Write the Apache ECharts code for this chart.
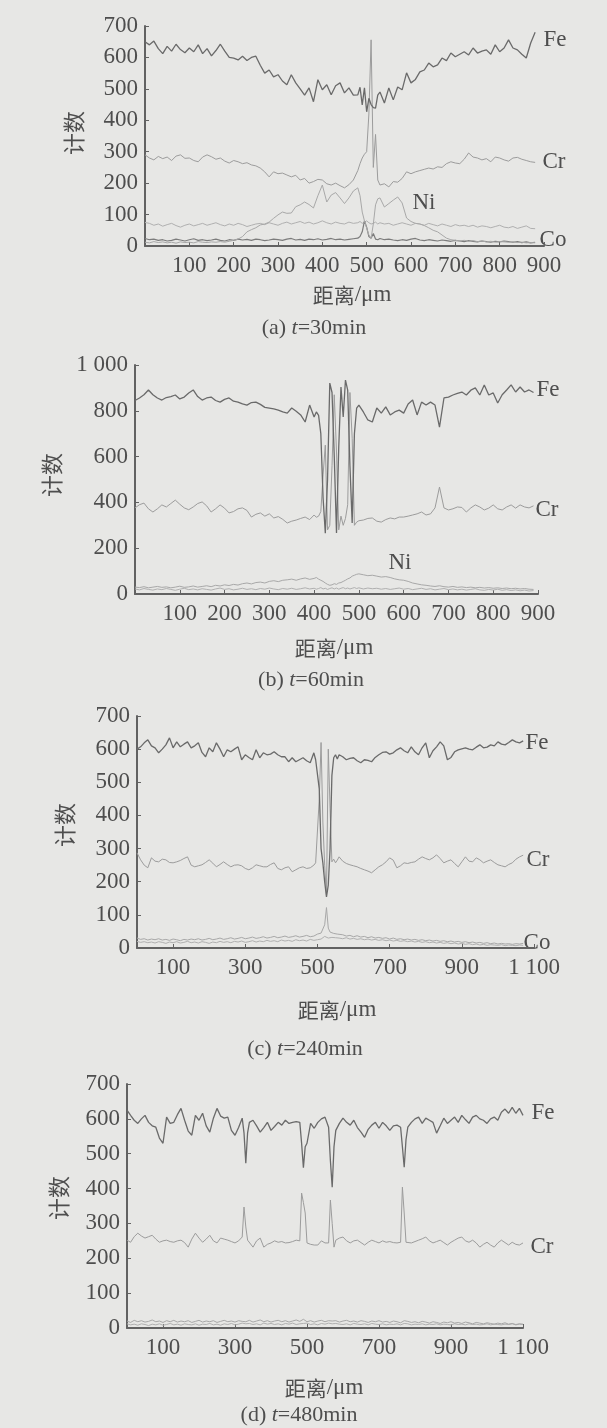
<!DOCTYPE html>
<html>
<head>
<meta charset="utf-8">
<script src="https://cdn.jsdelivr.net/npm/echarts@6/dist/echarts.min.js"></script>
<style>
html,body{margin:0;padding:0;background:#e7e7e5;}
#c{width:607px;height:1428px;}
</style>
</head>
<body>
<div id="c"></div>
<script>
// ---------- (a) t=30min ----------
const aX = [0,10,20,30,40,50,60,70,80,90,100,110,120,130,140,150,160,170,180,190,200,210,220,230,240,250,260,270,280,290,300,310,320,330,340,350,360,370,380,390,400,410,420,430,440,450,460,470,
480,485,490,495,500,505,510,515,520,525,530,
540,550,560,570,580,590,600,610,620,630,640,650,660,670,680,690,700,710,720,730,740,750,760,770,780,790,800,810,820,830,840,850,860,870,880];
const aFe = [650,640,652,628,612,635,620,642,625,615,
630,618,640,612,628,605,622,642,620,600,
598,592,604,590,600,604,575,550,560,538,
545,525,513,545,519,500,480,503,459,529,
497,513,481,510,519,487,503,480,
481,505,449,503,427,470,450,440,439,480,490,
455,503,465,506,497,551,519,530,554,560,
582,570,576,598,590,614,602,610,618,608,
630,614,620,624,610,640,618,630,656,630,
624,610,598,646,680];
const aCr = [290,280,274,285,278,283,272,286,290,279,
280,272,268,283,290,284,276,280,270,264,
272,268,262,265,258,255,248,236,220,236,
230,232,226,220,225,210,215,200,205,212,
210,198,194,200,192,185,195,210,
240,262,280,292,300,420,656,250,355,210,194,
198,188,205,203,215,236,230,236,240,244,
248,245,252,250,262,268,264,262,276,296,
283,280,274,278,268,283,280,274,270,280,
282,276,272,268,266];
const aNi = [12,10,14,11,13,10,12,9,13,11,
12,10,14,12,11,13,12,14,12,15,
18,22,30,45,52,58,67,70,76,88,
99,108,104,105,125,131,140,132,121,160,
194,140,162,170,153,135,153,175,
185,160,108,80,57,35,25,70,131,150,153,
124,135,146,156,137,89,78,72,70,65,
58,50,45,35,25,20,18,16,18,15,
17,14,16,13,15,12,14,13,12,14,
11,12,10,11,10];
const aOther = [75,72,66,70,63,68,72,65,60,66,
70,64,68,72,66,70,74,68,64,70,
66,72,68,62,66,70,72,68,74,70,
66,72,76,70,74,78,72,76,70,74,
80,74,70,76,72,70,76,72,
74,78,72,76,80,74,70,72,76,70,74,
70,72,66,70,74,70,66,72,70,66,
72,68,64,70,66,62,68,64,66,62,
66,60,64,62,58,62,66,60,58,62,
56,60,64,56,55];
const aCo = [24,20,22,18,20,16,18,22,19,16,
20,23,18,20,17,19,22,18,16,20,
18,22,19,21,18,22,20,17,19,22,
20,18,22,24,19,21,18,22,20,23,
19,21,24,20,22,19,21,23,
25,30,45,80,60,30,25,40,22,20,24,
20,22,19,17,20,18,22,24,19,17,
20,18,16,19,17,15,18,16,14,17,
15,13,16,14,12,15,13,16,14,12,
14,11,13,10,12];

// ---------- (b) t=60min ----------
const bX = [0,10,20,30,40,50,60,70,80,90,100,110,120,130,140,150,160,170,180,190,200,210,220,230,240,250,260,270,280,290,300,310,320,330,340,350,360,370,380,390,400,
405,410,415,420,425,430,435,440,445,450,455,460,465,470,475,480,485,490,495,
500,510,520,530,540,550,560,570,580,590,600,610,620,630,640,650,660,670,680,690,700,710,720,730,740,750,760,770,780,790,800,810,820,830,840,850,860,870,880,890];
const bFe = [845,856,870,891,870,856,847,858,862,869,
852,860,878,891,862,847,856,860,845,838,
850,856,842,838,830,825,836,838,828,815,
812,808,803,795,790,812,798,782,751,825,
773,
795,780,700,420,265,500,921,880,600,266,640,904,773,934,890,560,310,700,812,
825,795,760,751,812,790,817,782,795,803,
790,830,847,782,838,825,838,825,729,856,
860,869,876,882,869,890,900,869,913,869,
878,834,870,891,913,882,904,882,891,880];
const bCr = [376,390,397,372,358,372,389,380,395,410,
392,376,368,380,395,402,385,358,372,389,
375,354,360,372,376,365,336,348,354,340,
350,332,338,326,310,318,323,330,336,325,
345,
335,340,360,520,650,280,300,560,870,620,280,340,300,330,390,880,680,300,314,
320,323,330,332,318,314,325,332,328,336,
336,340,345,350,358,345,350,376,467,376,
367,372,380,378,358,376,389,380,367,375,
389,372,367,380,389,375,389,380,376,385];
const bNi = [30,28,32,27,30,33,29,31,27,30,
34,29,31,35,30,33,36,32,38,35,
40,37,42,39,45,48,44,50,52,48,
55,58,54,60,62,65,60,66,70,64,
68,
72,65,60,55,48,42,38,40,45,42,48,50,55,60,66,70,78,82,86,
88,84,80,82,78,74,76,72,66,62,
60,55,48,44,40,38,35,33,36,32,
30,33,29,31,28,30,27,29,26,28,
25,27,24,26,23,25,22,24,21,20];
const bCo = [22,18,24,20,17,22,19,24,20,16,
21,25,19,22,18,23,20,17,22,26,
20,23,18,21,25,20,23,19,24,21,
26,22,19,24,21,25,20,23,27,22,
25,
21,24,28,22,25,20,24,27,22,26,21,25,28,23,26,22,25,28,24,
27,22,26,23,25,21,24,20,23,26,
21,24,19,22,25,20,23,18,21,24,
19,22,18,21,17,20,23,18,16,20,
17,21,16,19,15,18,14,17,13,15];

// ---------- (c) t=240min ----------
const cX = [0,10,20,30,40,50,60,70,80,90,100,110,120,130,140,150,160,170,180,190,200,210,220,230,240,250,260,270,280,290,300,310,320,330,340,350,360,370,380,390,400,410,420,430,440,450,460,470,480,490,
495,500,505,510,515,520,525,530,535,540,545,550,555,
560,570,580,590,600,610,620,630,640,650,660,670,680,690,700,710,720,730,740,750,760,770,780,790,800,810,820,830,840,850,860,870,880,890,900,910,920,930,940,950,960,970,980,990,1000,1010,1020,1030,1040,1050,1060,1070];
const cFe = [600,607,619,628,610,604,589,600,613,634,
604,622,607,615,622,604,610,619,590,577,
604,592,619,600,577,598,592,600,607,568,
583,575,568,598,574,589,583,585,592,583,
577,577,562,574,562,568,574,565,559,589,
568,562,480,300,257,200,154,190,300,520,574,583,570,
583,577,568,572,574,565,559,568,566,562,
575,583,590,592,585,589,598,604,595,589,
607,592,583,604,619,574,595,607,622,610,
568,575,592,598,601,604,600,598,606,613,
604,606,613,610,622,615,613,620,628,622,
619,625];
const cCr = [287,266,250,242,272,262,260,268,266,258,
257,260,264,270,275,250,245,248,251,258,
266,256,245,252,260,252,245,250,251,248,
240,236,242,251,248,245,245,252,257,240,
236,242,245,230,236,242,245,240,242,250,
257,262,450,620,380,250,160,600,420,260,268,257,265,
275,262,255,251,248,245,240,236,232,227,
236,245,251,260,272,265,242,248,257,255,
258,260,268,275,270,266,272,281,270,257,
262,266,255,245,260,275,262,260,272,266,
257,262,266,258,251,248,245,252,257,268,
275,280];
const cLow = [30,26,28,24,27,25,28,24,26,23,
27,25,22,26,24,27,25,28,24,26,
29,25,27,30,26,28,31,27,29,32,
28,30,33,29,31,34,30,32,35,31,
33,36,32,34,37,33,35,38,34,36,
40,42,38,45,50,70,122,60,48,42,44,40,42,
38,40,36,38,34,37,33,35,31,34,
30,32,29,31,27,30,26,28,25,27,
24,26,23,25,22,24,21,23,20,22,
19,21,18,20,17,19,16,18,15,17,
14,16,13,15,12,14,12,13,11,13,
12,14];
const cCo = [20,17,19,16,18,15,19,17,14,18,
16,19,15,17,20,16,18,15,19,17,
14,18,16,20,17,19,16,20,18,21,
17,19,22,18,21,19,23,20,22,19,
24,21,23,20,25,22,24,21,26,23,
28,25,30,27,32,35,40,30,28,32,29,31,27,
30,28,31,27,29,26,28,25,27,24,
26,23,25,22,24,21,23,20,22,19,
21,18,20,17,19,16,18,15,17,14,
16,13,15,12,14,11,13,10,12,9,
11,8,10,9,8,10,7,9,8,7,
9,8];

// ---------- (d) t=480min ----------
const dX = [0,10,20,30,40,50,60,70,80,90,100,110,120,130,140,150,160,170,180,190,200,210,220,230,240,250,260,270,280,290,
300,310,320,325,330,335,340,350,360,370,380,390,
400,410,420,430,440,450,460,470,480,485,490,495,
500,510,520,530,540,550,560,565,570,575,
580,590,600,610,620,630,640,650,660,670,680,690,700,710,720,730,740,750,760,765,770,775,
780,790,800,810,820,830,840,850,860,870,880,890,900,910,920,930,940,950,960,970,980,990,1000,1010,1020,1030,1040,1050,1060,1070,1080,1090,1100];
const dFe = [625,610,596,587,600,610,590,580,576,545,
530,605,587,590,612,630,596,565,553,610,
596,616,580,562,602,630,608,602,605,567,
553,575,602,560,473,560,590,596,580,562,575,590,
567,578,590,582,596,587,590,592,590,530,460,520,
530,587,573,590,600,605,576,480,404,520,
567,587,602,590,582,596,575,562,547,570,582,590,573,590,580,567,580,582,576,520,461,540,
576,590,600,605,587,602,596,590,559,580,602,587,596,605,590,610,598,587,605,610,600,596,587,600,605,596,619,628,616,633,616,630,610];
const dCr = [252,246,262,272,264,258,262,266,255,246,
250,252,248,246,250,252,245,232,255,272,
258,246,255,266,250,244,258,255,252,248,
244,250,261,347,290,252,248,232,250,258,232,240,
244,250,246,248,244,245,248,252,250,387,360,330,
244,240,238,238,250,244,244,367,300,232,
252,258,261,250,244,250,252,245,238,246,252,248,244,250,246,248,245,244,246,404,330,246,
246,244,248,252,256,261,250,244,248,252,245,238,246,252,258,261,250,246,252,244,232,240,246,238,232,244,252,245,238,246,240,238,244];
const dLow1 = [20,16,22,18,21,17,19,23,18,20,
16,21,18,22,17,20,18,21,16,19,
22,17,20,18,21,16,19,22,18,20,
17,21,19,23,18,20,22,17,20,23,18,21,
17,20,22,18,21,17,20,23,19,22,25,20,
18,21,17,20,22,18,21,24,20,18,
21,17,20,22,18,20,17,21,19,16,20,18,21,17,19,16,20,18,15,19,21,17,
19,16,18,15,19,17,14,18,16,13,17,15,18,14,16,13,17,15,12,16,14,12,15,13,11,14,12,15,11,13,10,12,11];
const dLow2 = [12,9,11,8,12,10,7,11,9,12,
8,10,13,9,11,8,12,10,9,12,
8,11,10,13,9,11,8,12,10,13,
9,11,14,10,12,9,13,10,12,9,14,11,
13,10,12,9,13,11,14,10,12,9,13,11,
14,10,12,9,13,11,14,10,12,9,
13,11,10,12,9,13,11,10,12,9,13,11,10,12,9,11,10,12,9,11,13,10,
12,9,11,10,12,9,11,10,12,9,11,10,9,12,10,11,9,12,10,11,9,10,12,9,11,10,9,11,10,12,9,11,10];

// ---------- axis ticks ----------
const aYMax = 700, bYMax = 1000, cYMax = 700, dYMax = 700;
const oddTicks = [100,300,500,700,900,1100];

const SERIF = '"Liberation Serif","DejaVu Serif",serif';
const CJK = '"Noto Sans CJK SC","Noto Sans CJK JP",sans-serif';
const TXT = '#4e4e4e';
const AX = '#626262';

function fmt(v){ return v >= 1000 ? String(v).replace(/(\d)(\d{3})$/, '$1 $2') : String(v); }
function pairs(xs, ys){ return xs.map((x,i)=>[x, ys[i]]); }

const grids = [
  {left:145, top:26, width:399, height:220},
  {left:135, top:365, width:403, height:229},
  {left:137, top:716, width:397, height:232},
  {left:127, top:1084, width:396, height:244}
];

function xAx(i, max, custom){
  const ax = {
    type:'value', gridIndex:i, min:0, max:max, interval:100,
    axisLine:{show:true, onZero:false, lineStyle:{color:AX, width:2}},
    axisTick:{show:true, inside:true, length:4, lineStyle:{color:AX, width:1}},
    axisLabel:{color:TXT, fontFamily:SERIF, fontSize:23, margin:8,
      formatter:v => v===0 ? '' : fmt(v)},
    splitLine:{show:false}
  };
  if (custom){
    ax.axisTick.customValues = custom;
    ax.axisLabel.customValues = custom;
  }
  return ax;
}
function yAx(i, max, interval){
  return {
    type:'value', gridIndex:i, min:0, max:max, interval:interval,
    axisLine:{show:true, lineStyle:{color:AX, width:2}},
    axisTick:{show:true, inside:true, length:4, lineStyle:{color:AX, width:1}},
    axisLabel:{color:TXT, fontFamily:SERIF, fontSize:23, margin:7, formatter:v => fmt(v)},
    splitLine:{show:false}
  };
}
function line(name, gi, xs, ys, color, width, type){
  return {
    name:name, type:'line', xAxisIndex:gi, yAxisIndex:gi,
    data:pairs(xs, ys), showSymbol:false, symbol:'none', smooth:false,
    lineStyle:{color:color, width:width, type:type||'solid'},
    z: 2, silent:true
  };
}

const FE = '#6a6a6a', CR = '#9c9c9c', NI = '#a8a8a8', LOW = '#b0b0b0', CO = '#7c7c7c';

function label(text, x, y){
  return {type:'text', style:{text:text, x:x, y:y, fontFamily:SERIF, fontSize:23, fill:TXT,
    textAlign:'center', textVerticalAlign:'middle'}};
}
function xname(x, y){
  return {type:'text', style:{text:'距离{s|/μm}', x:x, y:y, fontFamily:CJK, fontSize:21, fill:TXT,
    textAlign:'center', textVerticalAlign:'middle',
    rich:{s:{fontFamily:SERIF, fontSize:23, fill:TXT}}}};
}
function yname(x, y){
  return {type:'text', x:x, y:y, rotation:Math.PI/2,
    style:{text:'计数', x:0, y:0, fontFamily:CJK, fontSize:22, fill:TXT,
    textAlign:'center', textVerticalAlign:'middle'}};
}
function caption(tag, rest, x, y){
  return {type:'text', style:{text:'(' + tag + ') {i|t}' + rest, x:x, y:y, fontFamily:SERIF, fontSize:22, fill:TXT,
    textAlign:'center', textVerticalAlign:'middle',
    rich:{i:{fontStyle:'italic', fontFamily:SERIF, fontSize:22, fill:TXT}}}};
}

const option = {
  backgroundColor:'#e7e7e5',
  animation:false,
  grid: grids,
  xAxis: [xAx(0, 900), xAx(1, 900), xAx(2, 1100, oddTicks), xAx(3, 1100, oddTicks)],
  yAxis: [yAx(0, aYMax, 100), yAx(1, bYMax, 200), yAx(2, cYMax, 100), yAx(3, dYMax, 100)],
  series: [
    line('Other', 0, aX, aOther, LOW, 1),
    line('Co', 0, aX, aCo, CO, 1.2),
    line('Ni', 0, aX, aNi, NI, 1),
    line('Cr', 0, aX, aCr, CR, 1),
    line('Fe', 0, aX, aFe, FE, 1.3),

    line('Co', 1, bX, bCo, LOW, 1),
    line('Ni', 1, bX, bNi, NI, 1),
    line('Cr', 1, bX, bCr, CR, 1),
    line('Fe', 1, bX, bFe, FE, 1.3),

    line('Co', 2, cX, cCo, LOW, 1),
    line('Low', 2, cX, cLow, NI, 1),
    line('Cr', 2, cX, cCr, CR, 1),
    line('Fe', 2, cX, cFe, FE, 1.3),

    line('Low2', 3, dX, dLow2, LOW, 1),
    line('Low1', 3, dX, dLow1, NI, 1),
    line('Cr', 3, dX, dCr, CR, 1),
    line('Fe', 3, dX, dFe, FE, 1.3)
  ],
  graphic: [
    label('Fe', 555, 40), label('Cr', 554, 162), label('Ni', 424, 203), label('Co', 553, 240),
    xname(352, 295), yname(74, 133), caption('a', '=30min', 314, 328),

    label('Fe', 548, 390), label('Cr', 547, 510), label('Ni', 400, 563),
    xname(334, 648), yname(52, 475), caption('b', '=60min', 311, 680),

    label('Fe', 537, 743), label('Cr', 538, 860), label('Co', 537, 943),
    xname(337, 1010), yname(65, 825), caption('c', '=240min', 305, 1049),

    label('Fe', 543, 1113), label('Cr', 542, 1247),
    xname(324, 1388), yname(59, 1198), caption('d', '=480min', 299, 1415)
  ]
};

const chart = echarts.init(document.getElementById('c'), null, {renderer:'canvas'});
chart.setOption(option);
</script>
</body>
</html>
